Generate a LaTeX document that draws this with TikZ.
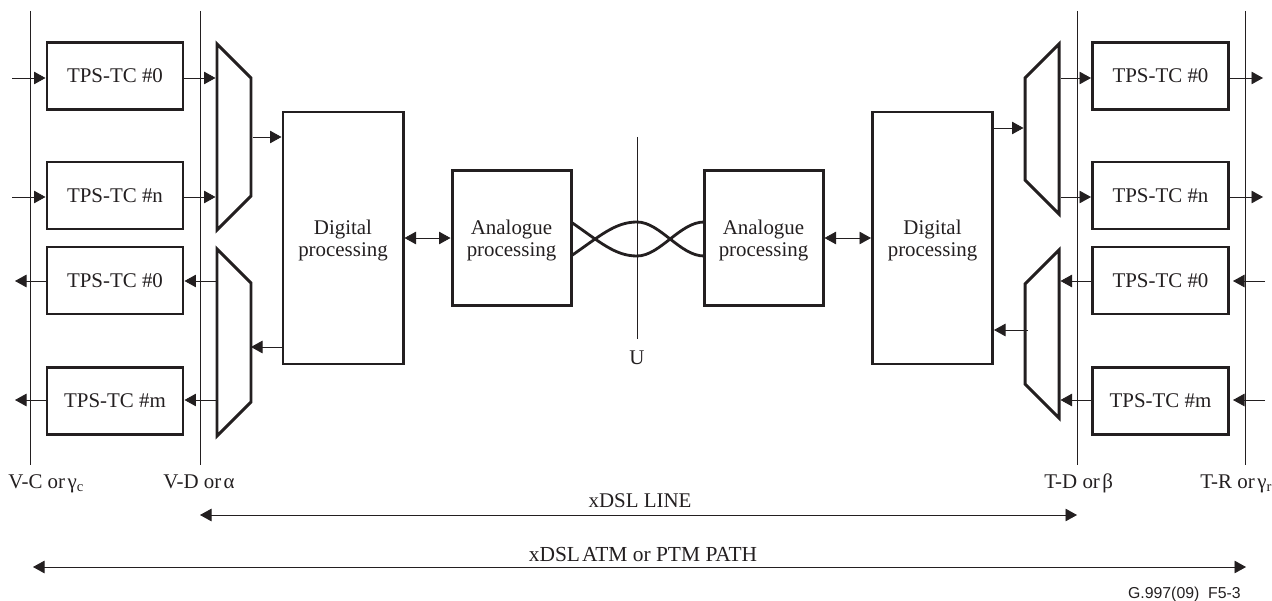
\documentclass[tikz,border=0pt]{standalone}
\usepackage{fontspec}
\setmainfont{Liberation Serif}
\newfontfamily\notefont{Liberation Sans}
\usepackage{xcolor}
\usetikzlibrary{arrows.meta}
\usetikzlibrary{shapes.geometric}
\definecolor{inkcol}{HTML}{231F20}
\tikzset{
    every node/.style={font=\fontsize{11.9}{12.6}\selectfont,text=inkcol,inner sep=0pt},
    blockbox/.style={draw=inkcol,line width=1.7pt,align=center},
    tpsbox/.style={blockbox,minimum width=2.72cm,minimum height=1.34cm},
    digibox/.style={blockbox,minimum width=2.4cm,minimum height=5.04cm},
    anabox/.style={blockbox,minimum width=2.38cm,minimum height=2.7cm},
    muxshape/.style={draw=inkcol,line width=1.7pt,trapezium,inner xsep=1pt,inner ysep=0.34cm,trapezium stretches body=true,trapezium angle=45,minimum width=#1},
    thinline/.style={draw=inkcol,line width=0.5pt},
    sigline/.style={thinline,-{Triangle[length=0.23cm,width=0.25cm]}},
    dualline/.style={thinline,{Triangle[length=0.23cm,width=0.25cm]}-{Triangle[length=0.23cm,width=0.25cm]}},
    pairline/.style={draw=inkcol,line width=1.6pt},
    pointlabel/.style={anchor=base west}
}
\begin{document}
\begin{tikzpicture}
            \useasboundingbox (0,0) rectangle (25.44,12);

            \coordinate (vctop) at (0.6,11.78);
            \coordinate (vcbot) at (0.6,2.7);
            \coordinate (vdtop) at (4,11.78);
            \coordinate (vdbot) at (4,2.7);
            \coordinate (tdtop) at (21.54,11.78);
            \coordinate (tdbot) at (21.54,2.7);
            \coordinate (trtop) at (24.9,11.78);
            \coordinate (trbot) at (24.9,2.7);
            \draw[thinline] (vctop) -- (vcbot);
            \draw[thinline] (vdtop) -- (vdbot);
            \draw[thinline] (tdtop) -- (tdbot);
            \draw[thinline] (trtop) -- (trbot);

            \node[tpsbox] (tpsla) at (2.3,10.48){TPS-TC \#0};
            \node[tpsbox] (tpslb) at (2.3,8.09){TPS-TC \#n};
            \node[tpsbox] (tpslc) at (2.3,6.39){TPS-TC \#0};
            \node[tpsbox] (tpsld) at (2.3,3.98){TPS-TC \#m};
            \node[tpsbox] (tpsra) at (23.21,10.48){TPS-TC \#0};
            \node[tpsbox] (tpsrb) at (23.21,8.09){TPS-TC \#n};
            \node[tpsbox] (tpsrc) at (23.21,6.39){TPS-TC \#0};
            \node[tpsbox] (tpsrd) at (23.21,3.98){TPS-TC \#m};

            \node[muxshape=3.72cm,rotate=-90] (muxla) at (4.68,9.26){};
            \node[muxshape=3.74cm,rotate=-90] (muxlb) at (4.68,5.15){};
            \node[muxshape=3.4cm,rotate=90] (muxra) at (20.84,9.42){};
            \node[muxshape=3.36cm,rotate=90] (muxrb) at (20.84,5.32){};

            \node[digibox] (digl) at (6.86,7.24){\rule{0pt}{11pt}Digital\\processing};
            \node[digibox] (digr) at (18.65,7.24){\rule{0pt}{11pt}Digital\\processing};
            \node[anabox] (anal) at (10.23,7.24){\rule{0pt}{11pt}Analogue\\processing};
            \node[anabox] (anar) at (15.27,7.24){\rule{0pt}{11pt}Analogue\\processing};

            \coordinate (inla) at (0.24,10.44);
            \coordinate (inlb) at (0.24,8.06);
            \coordinate (outlc) at (0.3,6.38);
            \coordinate (outld) at (0.3,4);
            \coordinate (outra) at (25.26,10.44);
            \coordinate (outrb) at (25.26,8.06);
            \coordinate (inrc) at (25.3,6.38);
            \coordinate (inrd) at (25.3,4);
            \coordinate (stoprc) at (24.66,6.38);
            \coordinate (stoprd) at (24.66,4);
            \coordinate (backl) at (5.02,5.06);
            \coordinate (fwdr) at (19.84,9.44);
            \coordinate (backr) at (20.56,5.4);

            \draw[sigline] (inla) -- (inla -| tpsla.west);
            \draw[sigline] (inlb) -- (inlb -| tpslb.west);
            \draw[sigline] (inla -| tpsla.east) -- (inla -| muxla.south);
            \draw[sigline] (inlb -| tpslb.east) -- (inlb -| muxla.south);
            \draw[sigline] (muxla.north) -- (muxla.north -| digl.west);
            \draw[sigline] (backl -| digl.west) -- (backl);
            \draw[sigline] (outlc -| muxlb.south) -- (outlc -| tpslc.east);
            \draw[sigline] (outld -| muxlb.south) -- (outld -| tpsld.east);
            \draw[sigline] (outlc -| tpslc.west) -- (outlc);
            \draw[sigline] (outld -| tpsld.west) -- (outld);

            \draw[dualline] (digl.east) -- (anal.west);
            \draw[dualline] (anar.east) -- (digr.west);

            \draw[sigline] (fwdr -| digr.east) -- (fwdr -| muxra.north);
            \draw[sigline] (backr) -- (backr -| digr.east);
            \draw[sigline] (outra -| muxra.south) -- (outra -| tpsra.west);
            \draw[sigline] (outrb -| muxra.south) -- (outrb -| tpsrb.west);
            \draw[sigline] (outra -| tpsra.east) -- (outra);
            \draw[sigline] (outrb -| tpsrb.east) -- (outrb);
            \draw[sigline] (inrc -| tpsrc.west) -- (inrc -| muxrb.south);
            \draw[sigline] (inrd -| tpsrd.west) -- (inrd -| muxrb.south);
            \draw[sigline] (inrc) -- (stoprc);
            \draw[sigline] (inrd) -- (stoprd);

            \coordinate (twa) at (11.42,7.56);
            \coordinate (twb) at (11.42,6.88);
            \coordinate (twc) at (14.08,7.56);
            \coordinate (twd) at (14.08,6.88);
            \coordinate (twm) at (12.74,6.88);
            \coordinate (twn) at (12.74,7.56);
            \draw[pairline] (twa) .. controls (12,7.16) and (12.3,6.88) .. (twm) .. controls (13.2,6.88) and (13.6,7.56) .. (twc);
            \draw[pairline] (twb) .. controls (12,7.28) and (12.3,7.56) .. (twn) .. controls (13.2,7.56) and (13.6,6.88) .. (twd);

            \coordinate (utop) at (12.74,9.26);
            \coordinate (ubot) at (12.74,5.22);
            \draw[thinline] (utop) -- (ubot);
            \node (ulabel) at (12.74,4.84){U};

            \node[pointlabel] (vclabel) at (0.16,2.24){V-C or\hspace{0.12em}γ\textsubscript{c}};
            \node[pointlabel] (vdlabel) at (3.26,2.24){V-D or\hspace{0.12em}α};
            \node[pointlabel] (tdlabel) at (20.88,2.24){T-D or\hspace{0.12em}β};
            \node[pointlabel] (trlabel) at (24,2.24){T-R or\hspace{0.12em}γ\textsubscript{r}};

            \coordinate (lineleft) at (4,1.7);
            \coordinate (lineright) at (21.54,1.7);
            \coordinate (pathleft) at (0.66,0.66);
            \coordinate (pathright) at (24.92,0.66);
            \draw[dualline] (lineleft) -- (lineright);
            \draw[dualline] (pathleft) -- (pathright);
            \node (linelabel) at (12.8,1.98){xDSL LINE};
            \node[font=\fontsize{12.2}{13}\selectfont] (pathlabel) at (12.86,0.91){xDSL\hspace{0.1em}ATM or PTM PATH};
            \node[anchor=east,font=\notefont\fontsize{9}{10}\selectfont] (figlabel) at (24.82,0.12){G.997(09)\ \ F5-3};
        \end{tikzpicture}
\end{document}
